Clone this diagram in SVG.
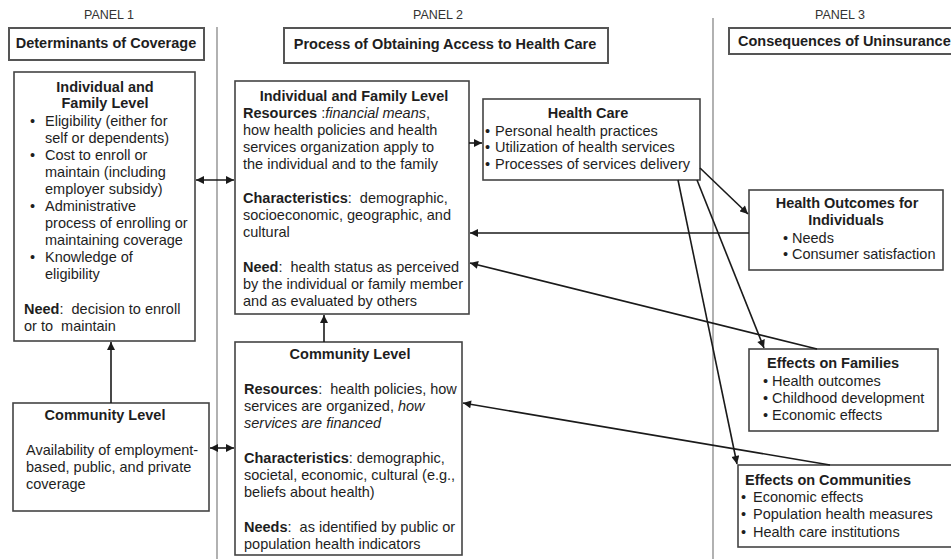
<svg xmlns="http://www.w3.org/2000/svg" width="951" height="559" viewBox="0 0 951 559">
<style>
text{font-family:"Liberation Sans",Arial,Helvetica,sans-serif;font-size:14.5px;fill:#1e1e1e;white-space:pre}
.b{font-weight:bold}
.i{font-style:italic}
.m{text-anchor:middle}
.pl{font-size:12.5px;fill:#333}
.box{fill:#fff;stroke:#444;stroke-width:1.6}
.tbox{fill:#fff;stroke:#555;stroke-width:2}
.div{stroke:#888;stroke-width:1.3}
.conn line{stroke:#1a1a1a;stroke-width:1.6;fill:none}
</style>
<defs>
<marker id="ah" viewBox="0 0 10 10" refX="10" refY="5" markerWidth="9" markerHeight="8" orient="auto-start-reverse" markerUnits="userSpaceOnUse"><path d="M0,0 L10,5 L0,10 z" fill="#1a1a1a"/></marker>
</defs>
<rect width="951" height="559" fill="#fff"/>
<g id="dividers">
<line class="div" x1="217" y1="27" x2="217" y2="559"/>
<line class="div" x1="713" y1="18" x2="713" y2="559"/>
</g>
<g id="panel1-head">
<text class="pl m" x="109" y="19">PANEL 1</text>
<rect class="tbox" x="9" y="28" width="195" height="32"/>
<text class="b m" x="106" y="48">Determinants of Coverage</text>
</g>
<g id="panel2-head">
<text class="pl m" x="438" y="19">PANEL 2</text>
<rect class="tbox" x="284" y="28" width="324" height="35"/>
<text class="b m" x="445" y="49">Process of Obtaining Access to Health Care</text>
</g>
<g id="panel3-head">
<text class="pl m" x="840" y="19">PANEL 3</text>
<rect class="tbox" x="729" y="28" width="240" height="26"/>
<text class="b" x="738" y="46">Consequences of Uninsurance</text>
</g>
<g id="p1-individual">
<rect class="box" x="14" y="72" width="181" height="269"/>
<text class="b m" x="105" y="92">Individual and</text>
<text class="b m" x="105" y="108">Family Level</text>
<text x="30" y="126">•</text><text x="45" y="126">Eligibility (either for</text>
<text x="45" y="143">self or dependents)</text>
<text x="30" y="160">•</text><text x="45" y="160">Cost to enroll or</text>
<text x="45" y="177">maintain (including</text>
<text x="45" y="194">employer subsidy)</text>
<text x="30" y="211">•</text><text x="45" y="211">Administrative</text>
<text x="45" y="228">process of enrolling or</text>
<text x="45" y="245">maintaining coverage</text>
<text x="30" y="262">•</text><text x="45" y="262">Knowledge of</text>
<text x="45" y="279">eligibility</text>
<text x="24" y="314"><tspan class="b">Need</tspan>:  decision to enroll</text>
<text x="24" y="331">or to  maintain</text>
</g>
<g id="p1-community">
<rect class="box" x="13" y="403" width="196" height="108"/>
<text class="b m" x="105" y="420">Community Level</text>
<text x="26" y="455">Availability of employment-</text>
<text x="26" y="472">based, public, and private</text>
<text x="26" y="489">coverage</text>
</g>
<g id="p2-individual">
<rect class="box" x="235" y="81" width="234" height="233"/>
<text class="b m" x="354" y="101">Individual and Family Level</text>
<text x="243" y="118"><tspan class="b">Resources</tspan> :<tspan class="i">financial means</tspan>,</text>
<text x="243" y="135">how health policies and health</text>
<text x="243" y="152">services organization apply to</text>
<text x="243" y="169">the individual and to the family</text>
<text x="243" y="203"><tspan class="b">Characteristics</tspan>:  demographic,</text>
<text x="243" y="220">socioeconomic, geographic, and</text>
<text x="243" y="237">cultural</text>
<text x="243" y="272"><tspan class="b">Need</tspan>:  health status as perceived</text>
<text x="243" y="289">by the individual or family member</text>
<text x="243" y="306">and as evaluated by others</text>
</g>
<g id="p2-community">
<rect class="box" x="235" y="342" width="227" height="213"/>
<text class="b m" x="350" y="359">Community Level</text>
<text x="244" y="394"><tspan class="b">Resources</tspan>:  health policies, how</text>
<text x="244" y="411">services are organized, <tspan class="i">how</tspan></text>
<text class="i" x="244" y="428">services are financed</text>
<text x="244" y="463"><tspan class="b">Characteristics</tspan>: demographic,</text>
<text x="244" y="480">societal, economic, cultural (e.g.,</text>
<text x="244" y="497">beliefs about health)</text>
<text x="244" y="532"><tspan class="b">Needs</tspan>:  as identified by public or</text>
<text x="244" y="549">population health indicators</text>
</g>
<g id="health-care">
<rect class="box" x="483" y="99" width="217" height="81"/>
<text class="b m" x="588" y="118">Health Care</text>
<text x="485" y="136">•</text><text x="495" y="136">Personal health practices</text>
<text x="485" y="152">•</text><text x="495" y="152">Utilization of health services</text>
<text x="485" y="169">•</text><text x="495" y="169">Processes of services delivery</text>
</g>
<g id="health-outcomes">
<rect class="box" x="749" y="190" width="194" height="80"/>
<text class="b m" x="847" y="208">Health Outcomes for</text>
<text class="b m" x="846" y="225">Individuals</text>
<text x="783" y="243">•</text><text x="792" y="243">Needs</text>
<text x="783" y="259">•</text><text x="792" y="259">Consumer satisfaction</text>
</g>
<g id="effects-families">
<rect class="box" x="749" y="349" width="189" height="82"/>
<text class="b" x="767" y="368">Effects on Families</text>
<text x="763" y="386">•</text><text x="772" y="386">Health outcomes</text>
<text x="763" y="403">•</text><text x="772" y="403">Childhood development</text>
<text x="763" y="420">•</text><text x="772" y="420">Economic effects</text>
</g>
<g id="effects-communities">
<rect class="box" x="738" y="465" width="225" height="82"/>
<text class="b" x="745" y="485">Effects on Communities</text>
<text x="741" y="502">•</text><text x="753" y="502">Economic effects</text>
<text x="741" y="519">•</text><text x="753" y="519">Population health measures</text>
<text x="741" y="537">•</text><text x="753" y="537">Health care institutions</text>
</g>
<g id="connectors" class="conn">
<line x1="111" y1="403" x2="111" y2="342" marker-end="url(#ah)"/>
<line x1="196" y1="180" x2="234" y2="180" marker-start="url(#ah)" marker-end="url(#ah)"/>
<line x1="210" y1="448" x2="234" y2="448" marker-start="url(#ah)" marker-end="url(#ah)"/>
<line x1="324" y1="342" x2="324" y2="315" marker-end="url(#ah)"/>
<line x1="469" y1="143" x2="482" y2="143" marker-end="url(#ah)"/>
<line x1="700" y1="168" x2="748" y2="214" marker-end="url(#ah)"/>
<line x1="697" y1="180" x2="764" y2="348" marker-end="url(#ah)"/>
<line x1="678" y1="180" x2="737" y2="464" marker-end="url(#ah)"/>
<line x1="749" y1="233" x2="470" y2="233" marker-end="url(#ah)"/>
<line x1="817" y1="349" x2="470" y2="263" marker-end="url(#ah)"/>
<line x1="830" y1="465" x2="463" y2="403" marker-end="url(#ah)"/>
</g>
</svg>
